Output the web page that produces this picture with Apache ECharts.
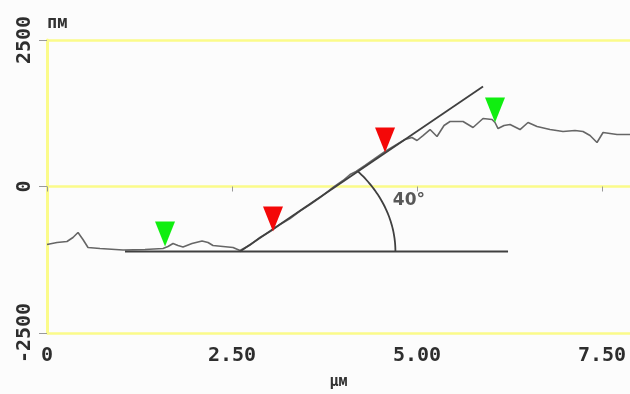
<!DOCTYPE html>
<html>
<head>
<meta charset="utf-8">
<script src="https://cdn.jsdelivr.net/npm/echarts@6/dist/echarts.min.js"></script>
<style>
html,body{margin:0;padding:0;background:#fcfcfc;}
#c{width:630px;height:394px;filter:blur(0.4px);}
</style>
</head>
<body>
<div id="c"></div>
<script>
// x positions (µm) and heights (nm) of the surface profile
var profileX = [0,0.135,0.27,0.351,0.419,0.486,0.554,0.716,1.027,1.324,1.568,1.635,1.703,1.77,1.838,1.959,2.095,2.176,2.243,2.378,2.514,2.608,
  2.743,2.878,3.014,3.149,3.284,3.419,3.554,3.689,3.865,4.0,4.095,4.176,4.297,4.432,4.568,4.703,4.838,4.932,5.0,5.081,5.176,5.27,5.365,5.446,5.541,5.622,5.757,5.892,
  6.014,6.054,6.095,6.176,6.257,6.338,6.392,6.5,6.622,6.797,6.973,7.135,7.243,7.338,7.432,7.514,7.608,7.703,7.878];
var profileY = [-990,-955,-938,-870,-785,-904,-1041,-1058,-1083,-1075,-1058,-1024,-972,-1007,-1032,-972,-930,-955,-1007,-1024,-1041,-1092,
  -999,-870,-768,-648,-546,-418,-307,-188,-17,102,205,256,358,478,597,700,802,836,785,870,972,853,1041,1109,1109,1109,1007,1160,
  1143,1092,989,1041,1058,1007,972,1092,1024,972,938,955,938,870,751,921,904,887,887];
// fitted slope line and baseline
var fitX = [2.608, 5.892];
var fitY = [-1109, 1706];
var baseX = [1.054, 6.23];
var baseY = [-1109, -1109];
// angle arc
var arcCenter = [2.608, -1109];
var arcRadiusUm = 2.1;
var angleLabel = '40°';
var angleLabelPos = [4.89, -240];
// cursor markers
var greenX = [1.595, 6.054];
var greenY = [-1024, 1092];
var redX = [3.054, 4.568];
var redY = [-768, 580];
// axes
var xTicks = ['0', '2.50', '5.00', '7.50'];
var yTicks = ['-2500', '0', '2500'];
var xUnit = 'µм';
var yUnit = 'пм';

function zip(a, b) { return a.map(function (v, i) { return [v, b[i]]; }); }

var font = 'DejaVu Sans Mono';
var chart = echarts.init(document.getElementById('c'));
chart.setOption({
  animation: false,
  backgroundColor: '#fcfcfc',
  grid: { left: 47, right: 0, top: 40, bottom: 61, containLabel: false, outerBoundsMode: 'none' },
  xAxis: {
    type: 'value', min: 0, max: 7.878, interval: 2.5,
    name: xUnit, nameLocation: 'middle', nameGap: 42,
    nameTextStyle: { fontFamily: font, fontWeight: 'bold', fontSize: 15, color: '#333' },
    axisLine: { show: false },
    axisTick: { show: true, length: 5, lineStyle: { color: '#999', width: 1 } },
    splitLine: { show: false },
    axisLabel: {
      margin: 13, fontFamily: font, fontWeight: 'bold', fontSize: 20, color: '#2e2e2e',
      showMaxLabel: false,
      formatter: function (v) { var i = Math.round(v / 2.5); return xTicks[i]; }
    }
  },
  yAxis: {
    type: 'value', min: -2500, max: 2500, interval: 2500,
    name: yUnit, nameLocation: 'end', nameGap: 8,
    nameTextStyle: { fontFamily: font, fontWeight: 'bold', fontSize: 17, color: '#333', align: 'left' },
    axisLine: { show: true, lineStyle: { color: '#fbfb8a', width: 3 } },
    axisTick: { show: true, length: 8, lineStyle: { color: '#999', width: 1 } },
    splitLine: { show: true, lineStyle: { color: '#fbfb8a', width: 2.5 } },
    axisLabel: {
      rotate: 90, margin: 12, fontFamily: font, fontWeight: 'bold', fontSize: 20, color: '#2e2e2e',
      formatter: function (v) { var i = Math.round(v / 2500) + 1; return yTicks[i]; }
    }
  },
  series: [
    {
      type: 'line', data: zip(profileX, profileY), symbol: 'none',
      lineStyle: { color: '#666666', width: 1.6 }, z: 3
    },
    {
      type: 'line', data: zip(fitX, fitY), symbol: 'none',
      lineStyle: { color: '#404040', width: 1.8 }, z: 4
    },
    {
      type: 'line', data: zip(baseX, baseY), symbol: 'none',
      lineStyle: { color: '#404040', width: 1.8 }, z: 4
    },
    {
      type: 'custom', z: 4,
      data: [[arcCenter[0], arcCenter[1]]],
      renderItem: function (params, api) {
        var c = api.coord([api.value(0), api.value(1)]);
        var rx = api.size([arcRadiusUm, 0])[0];
        var ry = api.size([0, arcRadiusUm * 1000])[1];
        var ang = Math.atan(((fitY[1] - fitY[0]) / 1000) / (fitX[1] - fitX[0]));
        var pts = [];
        for (var i = 0; i <= 40; i++) {
          var t = ang * i / 40;
          pts.push([c[0] + rx * Math.cos(t), c[1] - ry * Math.sin(t)]);
        }
        return { type: 'polyline', shape: { points: pts }, style: { stroke: '#404040', lineWidth: 1.8, fill: null } };
      }
    },
    {
      type: 'scatter', data: zip(greenX, greenY), z: 6,
      symbol: 'path://M0,0 L20,0 L10,25 Z', symbolSize: [20, 25], symbolOffset: [0, -12.5],
      itemStyle: { color: '#10ee10', opacity: 1 }
    },
    {
      type: 'scatter', data: zip(redX, redY), z: 6,
      symbol: 'path://M0,0 L20,0 L10,25 Z', symbolSize: [20, 25], symbolOffset: [0, -12.5],
      itemStyle: { color: '#f40808', opacity: 1 }
    },
    {
      type: 'scatter', data: [angleLabelPos], symbolSize: 0, z: 6,
      label: {
        show: true, position: 'inside', formatter: angleLabel,
        fontFamily: 'DejaVu Sans', fontWeight: 'bold', fontSize: 17, color: '#2e2e2e'
      }
    }
  ]
});
</script>
</body>
</html>
